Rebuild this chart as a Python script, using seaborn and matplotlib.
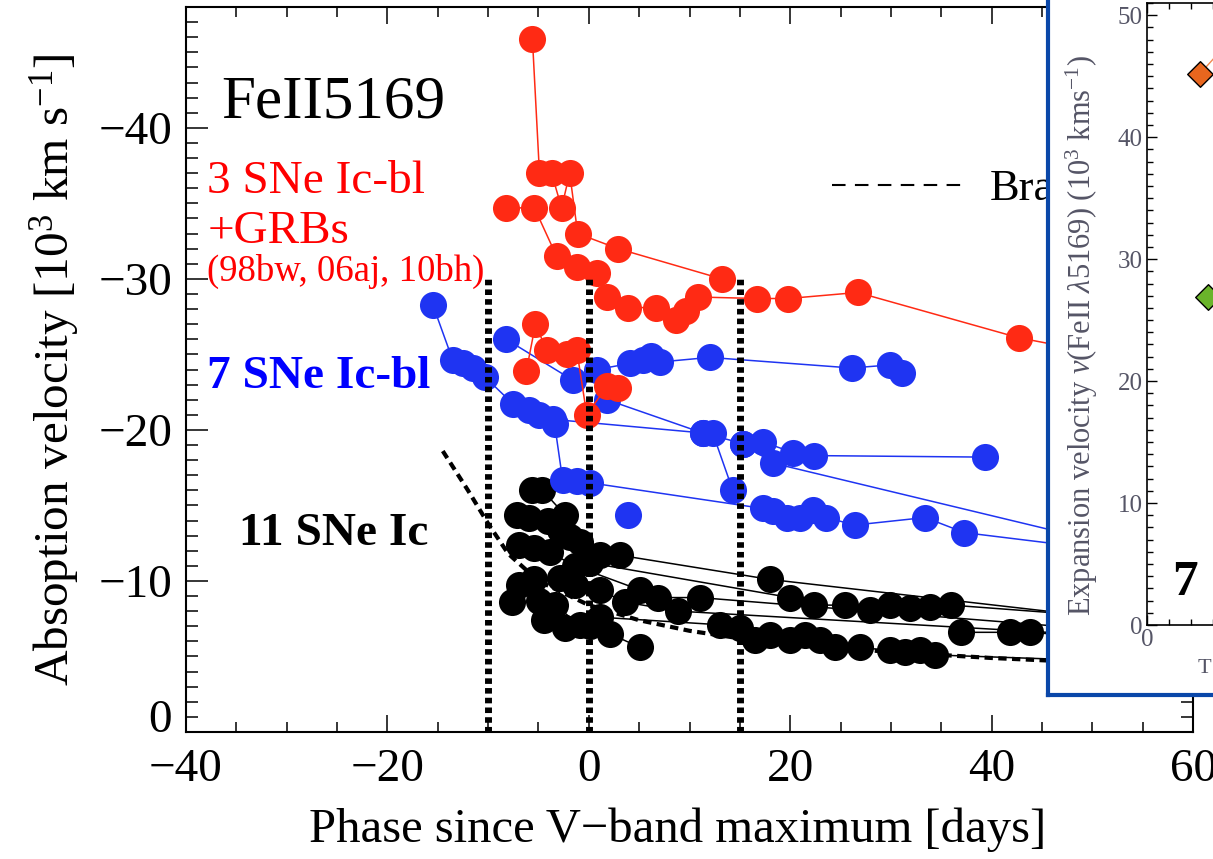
import numpy as np
import pandas as pd
import matplotlib
matplotlib.use("Agg")
import matplotlib.pyplot as plt
import seaborn as sb
from matplotlib.ticker import MultipleLocator, FixedLocator
from matplotlib.lines import Line2D
from matplotlib.transforms import ScaledTranslation

# ---- data (phase [days], velocity [1e3 km/s]) ----
# SNe Ic-bl + GRBs (red)
red1_phase = [-5.6, -4.9, -3.7, -2.7, -1.9, -1.1, 2.9, 13.2]
red1_vel = [-45.9, -37.0, -37.0, -34.7, -37.0, -33.0, -32.0, -30.0]
red2_phase = [-8.2, -5.4, -3.2, -1.2, 0.8, 1.8, 3.9, 6.7, 8.7, 9.7, 10.8, 16.7, 19.8, 26.7, 42.7, 56.0]
red2_vel = [-34.7, -34.7, -31.5, -30.8, -30.4, -28.8, -28.1, -28.1, -27.3, -27.9, -28.8, -28.7, -28.7, -29.1, -26.1, -24.4]
red3_phase = [-6.2, -5.3, -4.2, -2.2, -1.2, -0.2, 1.8, 2.9]
red3_vel = [-23.9, -27.0, -25.3, -25.0, -25.3, -21.0, -22.9, -22.8]

# SNe Ic-bl (blue)
blue1_phase = [-15.5, -13.5, -12.5, -11.5, -10.3, -7.5, -5.9, -4.9, -3.6, 11.3, 15.3, 17.3, 20.3, 22.4, 39.3]
blue1_vel = [-28.3, -24.6, -24.4, -24.1, -23.5, -21.7, -21.3, -21.0, -20.7, -19.8, -19.1, -19.2, -18.5, -18.3, -18.2]
blue2_phase = [-8.2, -1.6, 0.8, 4.1, 5.4, 6.2, 7.1, 12.0, 26.1, 29.9, 31.1]
blue2_vel = [-26.0, -23.3, -24.0, -24.4, -24.6, -24.9, -24.5, -24.8, -24.1, -24.3, -23.8]
blue3_phase = [1.8, 11.3, 12.3, 14.3]
blue3_vel = [-22.0, -19.8, -19.8, -16.0]
blue4_phase = [-3.4, -2.6, -1.2, 0.1, 17.3, 18.3, 19.7, 21.0, 22.3, 23.6, 26.4, 33.4, 37.3, 52.0]
blue4_vel = [-20.4, -16.7, -16.6, -16.5, -14.8, -14.6, -14.2, -14.2, -14.7, -14.2, -13.7, -14.2, -13.2, -12.0]
blue5_phase = [15.3, 18.3, 52.0]
blue5_vel = [-19.1, -17.8, -12.4]
blue6_phase = [3.9]
blue6_vel = [-14.4]

# SNe Ic (black)
blk1_phase = [-5.6, -4.6, -2.4, -0.9, 1.1, 3.1, 18.0, 56.0]
blk1_vel = [-16.0, -16.0, -14.4, -12.6, -11.7, -11.7, -10.1, -7.2]
blk2_phase = [-7.1, -5.9, -4.1, -2.9, -1.9, 0.1, 20.0, 22.4, 25.4, 27.9, 29.9, 31.9, 33.9, 36.0, 56.0]
blk2_vel = [-14.4, -14.2, -14.0, -13.4, -12.9, -11.2, -8.9, -8.4, -8.4, -8.1, -8.4, -8.2, -8.3, -8.4, -7.4]
blk3_phase = [-6.9, -5.4, -3.9, -1.4, 5.1, 6.9, 11.0, 56.0]
blk3_vel = [-12.4, -12.2, -11.9, -11.0, -9.4, -8.9, -8.9, -6.5]
blk4_phase = [-6.9, -5.4, -2.9, -1.4, 1.1, 3.6, 8.9, 56.0]
blk4_vel = [-9.7, -10.1, -10.2, -9.7, -9.4, -8.6, -8.0, -6.2]
blk5_phase = [-7.6, -4.9, -3.4, -0.9, 1.1, 13.0, 15.0, 16.5, 18.0, 20.0, 21.5, 23.0, 24.4, 26.9, 29.9, 31.4, 32.9, 34.4, 56.0]
blk5_vel = [-8.6, -8.7, -8.4, -7.1, -7.6, -7.1, -6.9, -6.1, -6.4, -6.1, -6.4, -6.1, -5.6, -5.6, -5.4, -5.3, -5.4, -5.1, -4.6]
blk6_phase = [-4.4, -2.4, 0.1, 2.1, 5.1]
blk6_vel = [-7.4, -6.9, -7.0, -6.5, -5.6]
blk7_phase = [37.0, 41.8, 43.8, 56.0]
blk7_vel = [-6.6, -6.6, -6.6, -6.0]

# Branch et al. fit (dashed)
branch_phase = [-14.5, -12.0, -10.0, -8.0, -5.0, 0.0, 5.0, 10.0, 15.0, 20.0, 30.0, 40.0, 50.0, 60.0]
branch_vel = [-18.6, -16.0, -13.8, -11.8, -10.0, -8.4, -7.4, -6.7, -6.2, -5.8, -5.3, -4.9, -4.6, -4.4]

epochs = [-10, 0, 15]

# inset panel
inset_orange_t = [12.0, 18.0]
inset_orange_v = [45.2, 47.6]
inset_green_t = [13.8]
inset_green_v = [26.9]


def make_df(groups):
    rows = []
    for name, (ph, v) in groups.items():
        for p, q in zip(ph, v):
            rows.append((name, p, q))
    return pd.DataFrame(rows, columns=["sn", "phase", "vel"])


red_df = make_df({"r1": (red1_phase, red1_vel), "r2": (red2_phase, red2_vel), "r3": (red3_phase, red3_vel)})
blue_df = make_df({"b1": (blue1_phase, blue1_vel), "b2": (blue2_phase, blue2_vel), "b3": (blue3_phase, blue3_vel),
                   "b4": (blue4_phase, blue4_vel), "b5": (blue5_phase, blue5_vel), "b6": (blue6_phase, blue6_vel)})
blk_df = make_df({"k1": (blk1_phase, blk1_vel), "k2": (blk2_phase, blk2_vel), "k3": (blk3_phase, blk3_vel),
                  "k4": (blk4_phase, blk4_vel), "k5": (blk5_phase, blk5_vel), "k6": (blk6_phase, blk6_vel),
                  "k7": (blk7_phase, blk7_vel)})

sb.set_theme(style="ticks", rc={"axes.edgecolor": "black", "xtick.color": "black", "ytick.color": "black",
                                "axes.labelcolor": "black", "text.color": "black"})
plt.rcParams["font.family"] = ["Liberation Serif", "DejaVu Serif"]
plt.rcParams["mathtext.fontset"] = "custom"
plt.rcParams["mathtext.rm"] = "Liberation Serif"
plt.rcParams["mathtext.it"] = "Liberation Serif:italic"

fig = plt.figure(figsize=(12.13, 8.59), dpi=100)
ax = fig.add_axes([186 / 1213, 127 / 859, 1007 / 1213, 725 / 859])

RED, BLUE = "#ff2a14", "#1f34f2"
MS = 380

# Branch curve
sb.lineplot(x=branch_phase, y=branch_vel, ax=ax, color="black", lw=3, sort=False,
            linestyle=(0, (2.0, 1.3)), zorder=1)

# black
sb.lineplot(data=blk_df, x="phase", y="vel", units="sn", estimator=None, sort=False,
            color="black", lw=1.1, ax=ax, zorder=2)
sb.scatterplot(data=blk_df, x="phase", y="vel", color="black", s=MS, linewidth=0, ax=ax, zorder=2)
# blue
sb.lineplot(data=blue_df, x="phase", y="vel", units="sn", estimator=None, sort=False,
            color=BLUE, lw=1.1, ax=ax, zorder=3)
sb.scatterplot(data=blue_df, x="phase", y="vel", color=BLUE, s=MS, linewidth=0, ax=ax, zorder=3)
# red
sb.lineplot(data=red_df, x="phase", y="vel", units="sn", estimator=None, sort=False,
            color=RED, lw=1.1, ax=ax, zorder=4)
sb.scatterplot(data=red_df, x="phase", y="vel", color=RED, s=MS, linewidth=0, ax=ax, zorder=4)

# epochs
ax.vlines(epochs, 0, -30, colors="black", lw=5, linestyles=[(0, (0.8, 0.6))], zorder=5)

ax.set_xlim(-40, 60)
ax.set_ylim(0, -48)
ax.xaxis.set_major_locator(MultipleLocator(20))
ax.xaxis.set_minor_locator(MultipleLocator(5))
ax.yaxis.set_major_locator(FixedLocator([-40, -30, -20, -10, 0]))
ax.yaxis.set_minor_locator(MultipleLocator(1))
ax.tick_params(which="both", direction="in", top=True, right=True, width=1.1, labelsize=34)
ax.tick_params(axis="x", which="major", length=12, pad=12)
ax.tick_params(axis="x", which="minor", length=7)
ax.tick_params(axis="y", which="major", length=15.5, pad=10)
ax.tick_params(axis="y", which="minor", length=8.5)
for sp in ax.spines.values():
    sp.set_linewidth(1.5)

# the "0" label sits a bit higher in the original
yt = ax.yaxis.get_major_ticks()
yt[4].label1.set_transform(yt[4].label1.get_transform() + ScaledTranslation(0, 0.16, fig.dpi_scale_trans))

ax.set_xlabel("Phase since V\u2212band maximum [days]", fontsize=35)
ax.xaxis.set_label_coords(0.488, -0.104)
ax.xaxis.label.set_va("top")
ax.set_ylabel(r"Absoption velocity [10$^3$ km s$^{-1}$]", fontsize=35.5, labelpad=12)

ax.text(-36.5, -40.7, "FeII5169", fontsize=44)
ax.text(-37.9, -35.7, "3 SNe Ic-bl", fontsize=34, color="red")
ax.text(-37.9, -32.4, "+GRBs", fontsize=34, color="red")
ax.text(-37.9, -29.9, "(98bw, 06aj, 10bh)", fontsize=26.5, color="red")
ax.text(-37.9, -22.8, "7 SNe Ic-bl", fontsize=34, color="blue", fontweight="bold")
ax.text(-34.7, -12.4, "11 SNe Ic", fontsize=34, color="black", fontweight="bold")

hnd = Line2D([], [], color="black", lw=1.5, dashes=(6.5, 4.5))
ax.legend([hnd], ["Bra"], loc="upper left", bbox_to_anchor=(0.6415, 0.7766),
          frameon=False, fontsize=32, handlelength=2.95, handletextpad=0.6, borderpad=0, borderaxespad=0)

# ---- inset panel with blue frame ----
frame = fig.add_axes([1048 / 1213, 164 / 859, 400 / 1213, 800 / 859])
frame.set_zorder(10)
frame.set_facecolor("white")
frame.set_xticks([])
frame.set_yticks([])
for sp in frame.spines.values():
    sp.set_color("#0a47a9")
    sp.set_linewidth(3)

GREY = "#555566"
ax_in = fig.add_axes([1147 / 1213, 234 / 859, 300 / 1213, 622 / 859])
ax_in.set_zorder(11)
ax_in.set_facecolor("none")
sb.lineplot(x=inset_orange_t, y=inset_orange_v, color="#f08a50", lw=1, ax=ax_in)
sb.scatterplot(x=inset_orange_t, y=inset_orange_v, marker="D", s=170, color="#e8661e",
               edgecolor="black", linewidth=1, ax=ax_in, zorder=3)
sb.scatterplot(x=inset_green_t, y=inset_green_v, marker="D", s=170, color="#6ab42a",
               edgecolor="black", linewidth=1, ax=ax_in, zorder=3)
ax_in.set_xlim(0, 68)
ax_in.set_ylim(0, 51)
ax_in.xaxis.set_major_locator(FixedLocator([0]))
ax_in.xaxis.set_minor_locator(MultipleLocator(5))
ax_in.yaxis.set_major_locator(MultipleLocator(10))
ax_in.yaxis.set_minor_locator(MultipleLocator(1))
ax_in.tick_params(which="both", direction="in", top=True, right=True, width=1, labelsize=18,
                  labelcolor=GREY, pad=3)
ax_in.tick_params(which="major", length=7)
ax_in.tick_params(which="minor", length=4)
for sp in ax_in.spines.values():
    sp.set_linewidth(1.2)
ax_in.set_ylabel(r"Expansion velocity $v$(FeII $\lambda$5169) (10$^3$ kms$^{-1}$)", fontsize=22, color=GREY)
ax_in.yaxis.label.set_va("center")
ax_in.yaxis.set_label_coords(-65 / 300, 0.466)
ax_in.set_xlabel("T", fontsize=16, color=GREY)
ax_in.xaxis.label.set_ha("left")
ax_in.xaxis.set_label_coords(51 / 300, -0.055)
ax_in.text(5.7, 2.5, "7", fontsize=37, fontweight="bold", color="black")

fig.savefig("out.png", dpi=100)
